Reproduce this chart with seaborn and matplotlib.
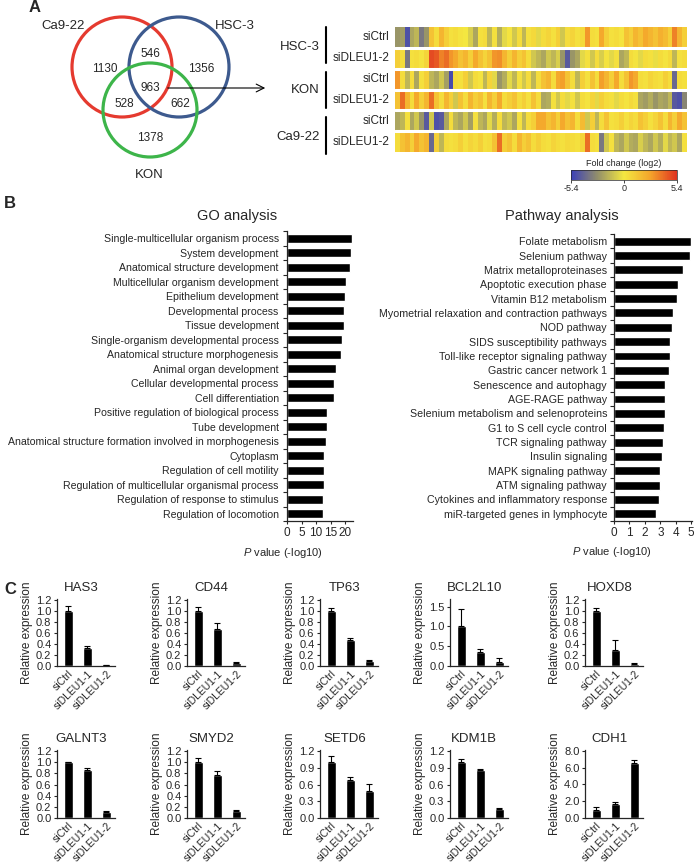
import numpy as np
import pandas as pd
import matplotlib
matplotlib.use('Agg')
import matplotlib.pyplot as plt
import seaborn as sns
from matplotlib.colors import LinearSegmentedColormap
from matplotlib.patches import Circle

sns.set_style('ticks')
plt.rcParams['font.family'] = ['Liberation Sans', 'DejaVu Sans']
plt.rcParams['mathtext.fontset'] = 'custom'
plt.rcParams['mathtext.it'] = 'Liberation Sans:italic'
plt.rcParams['mathtext.rm'] = 'Liberation Sans'

# ---------------- data ----------------
# Venn (A)
venn_sets = ['Ca9-22', 'HSC-3', 'KON']
venn_regions = ['Ca9-22 only', 'HSC-3 only', 'Ca9-22&HSC-3', 'all', 'Ca9-22&KON', 'HSC-3&KON', 'KON only']
venn_counts = [1130, 1356, 546, 963, 528, 662, 1378]

# Heatmap (A), log2 fold change, one list per row
heat_cells = ['HSC-3', 'KON', 'Ca9-22']
heat_conds = ['siCtrl', 'siDLEU1-2', 'siCtrl', 'siDLEU1-2', 'siCtrl', 'siDLEU1-2']
hsc3_ctrl = [-2.5, -2.3, -4.8, -2.0, -1.5, -3.5, -2.5, 1.5, 0.5, 2.0,
             1.0, 0.3, 0.5, 0.2, 0.0, -0.8, -2.0, 0.3, 0.5, -1.5,
             0.3, -1.8, -0.5, 0.2, -1.0, 0.5, -1.5, 0.3, 0.6, -0.5,
             0.5, 0.8, 0.3, 1.0, -1.0, 0.5, 0.8, 0.3, 0.6, 3.0,
             0.5, 0.3, 2.5, 1.0, 0.3, 0.5, 0.2, 1.5, 1.0, 2.0,
             1.5, 2.5, 2.0, 1.5, 2.2, 1.8, 1.0, 3.5, 2.0, 1.0]
hsc3_kd = [1.0, 0.5, -3.5, 0.3, 0.5, 0.2, 0.8, 4.8, 4.5, 3.5,
           4.0, 3.0, 2.5, 1.5, 2.0, 1.0, 2.5, 1.5, 0.8, 1.5,
           3.0, 3.2, 2.0, 1.0, 2.0, 1.0, 1.5, 0.5, -1.0, -1.5,
           -2.0, -1.0, -1.5, -0.8, -2.5, -4.5, -2.5, -2.0, -0.5, 0.3,
           -1.0, 0.5, -0.8, 0.2, -0.5, 0.3, -2.0, -1.5, 0.5, 0.2,
           -0.5, 0.5, 0.3, -0.3, 0.5, 0.2, 0.6, -1.5, 0.3, 0.5]
kon_ctrl = [3.0, 0.5, -1.5, 0.5, -2.0, 0.3, 1.0, -1.5, -2.0, -1.0,
            -2.2, -5.0, 0.5, 0.3, 1.0, -1.0, 0.5, 0.2, -1.5, 0.8,
            -0.5, -2.5, -1.8, -0.5, -1.5, 0.3, -1.0, 0.5, -1.5, 0.5,
            1.5, 2.0, 0.5, 2.5, 2.8, 1.5, 0.5, -1.5, 1.0, 0.3,
            1.5, 0.5, 2.8, 2.0, 1.0, 2.5, 0.5, 1.5, 3.0, 2.5,
            0.5, 0.3, 0.8, 0.5, 0.3, 1.0, 0.5, -4.0, 0.5, 0.3]
kon_kd = [1.5, 4.0, 2.0, 0.5, 2.5, 1.0, 2.0, 4.0, 1.5, 0.5,
          2.0, 1.0, -1.0, 1.5, 0.5, 2.0, 1.0, 1.5, 0.3, 2.0,
          1.0, 2.5, 0.5, 1.0, 1.5, 0.5, 1.0, 0.3, 1.5, 0.5,
          -2.0, -1.8, 0.3, -1.0, 0.5, -0.5, 0.3, -1.0, 0.5, 0.2,
          0.8, -0.5, 1.0, 0.5, 0.3, -0.5, 0.5, 0.2, 0.6, 0.3,
          -2.0, -2.3, -1.8, -2.5, -2.0, -2.2, -1.5, -4.5, -4.8, -3.0]
ca922_ctrl = [-2.0, -1.5, 0.3, -2.0, -1.0, -2.5, -4.5, -1.0, -4.8, -4.5,
              -2.0, 0.5, -1.5, -2.0, -1.0, -2.2, 0.3, -1.5, -2.0, -0.5,
              -1.8, 0.5, -1.5, -1.0, -2.0, 0.3, -1.5, 0.5, 1.0, 2.5,
              2.5, 1.5, 2.0, 1.0, 2.5, 1.5, 2.0, 0.5, 1.8, -1.0,
              1.0, -1.5, 0.5, 1.5, 0.3, 0.5, 1.0, 0.3, 0.8, 0.5,
              1.5, 1.0, 0.3, 0.8, 1.5, 0.5, 2.0, 1.0, 2.5, 1.5]
ca922_kd = [0.5, 1.5, 2.0, 1.0, 2.5, 1.5, 2.0, -4.0, 1.0, -1.5,
            0.5, 0.3, 0.5, 1.0, 0.3, 0.8, 0.5, 1.0, 0.3, 0.5,
            1.5, 4.0, 1.0, 1.5, 0.5, 2.0, 1.0, 1.5, 0.5, 1.0,
            0.5, 0.3, 0.8, 0.5, 0.3, 0.6, 0.5, 0.3, 0.8, 4.0,
            0.5, 0.3, -3.5, -1.0, 0.3, -1.5, -2.0, -1.0, -1.8, -2.0,
            -0.8, -1.5, -2.0, -1.0, -1.8, -0.5, -1.5, -1.0, -2.0, 0.3]

# GO analysis (B)
go_terms = ['Single-multicellular organism process', 'System development',
            'Anatomical structure development', 'Multicellular organism development',
            'Epithelium development', 'Developmental process', 'Tissue development',
            'Single-organism developmental process', 'Anatomical structure morphogenesis',
            'Animal organ development', 'Cellular developmental process', 'Cell differentiation',
            'Positive regulation of biological process', 'Tube development',
            'Anatomical structure formation involved in morphogenesis', 'Cytoplasm',
            'Regulation of cell motility', 'Regulation of multicellular organismal process',
            'Regulation of response to stimulus', 'Regulation of locomotion']
go_pvals = [22.5, 22.0, 21.5, 20.3, 20.0, 19.7, 19.6, 18.9, 18.6, 16.9,
            16.2, 16.2, 13.8, 13.7, 13.4, 12.8, 12.7, 12.6, 12.5, 12.5]

# Pathway analysis (B)
pathway_terms = ['Folate metabolism', 'Selenium pathway', 'Matrix metalloproteinases',
                 'Apoptotic execution phase', 'Vitamin B12 metabolism',
                 'Myometrial relaxation and contraction pathways', 'NOD pathway',
                 'SIDS susceptibility pathways', 'Toll-like receptor signaling pathway',
                 'Gastric cancer network 1', 'Senescence and autophagy', 'AGE-RAGE pathway',
                 'Selenium metabolism and selenoproteins', 'G1 to S cell cycle control',
                 'TCR signaling pathway', 'Insulin signaling', 'MAPK signaling pathway',
                 'ATM signaling pathway', 'Cytokines and inflammatory response',
                 'miR-targeted genes in lymphocyte']
pathway_pvals = [4.97, 4.95, 4.45, 4.13, 4.06, 3.85, 3.74, 3.63, 3.63, 3.59,
                 3.31, 3.30, 3.30, 3.25, 3.16, 3.10, 2.99, 2.98, 2.94, 2.73]

# qPCR (C)
genes = ['HAS3', 'CD44', 'TP63', 'BCL2L10', 'HOXD8',
         'GALNT3', 'SMYD2', 'SETD6', 'KDM1B', 'CDH1']
conditions = ['siCtrl', 'siDLEU1-1', 'siDLEU1-2']
expr_means = [[1.0, 0.33, 0.01], [1.0, 0.68, 0.06], [1.0, 0.48, 0.10],
              [1.0, 0.36, 0.10], [1.0, 0.30, 0.03], [1.0, 0.86, 0.11],
              [1.0, 0.77, 0.13], [1.0, 0.69, 0.49], [1.0, 0.87, 0.17],
              [1.0, 1.70, 6.60]]
expr_errs = [[0.10, 0.03, 0.005], [0.08, 0.11, 0.01], [0.06, 0.03, 0.01],
             [0.43, 0.07, 0.10], [0.05, 0.18, 0.02], [0.01, 0.03, 0.01],
             [0.07, 0.08, 0.01], [0.12, 0.05, 0.12], [0.05, 0.01, 0.005],
             [0.30, 0.15, 0.30]]
gene_yticks = [[0, 0.2, 0.4, 0.6, 0.8, 1.0, 1.2]] * 3 + [[0, 0.5, 1.0, 1.5]] + \
              [[0, 0.2, 0.4, 0.6, 0.8, 1.0, 1.2]] * 3 + [[0, 0.3, 0.6, 0.9, 1.2]] * 2 + \
              [[0, 2, 4, 6, 8]]

# ---------------- layout ----------------
W, H = 694, 868
fig = plt.figure(figsize=(W / 100, H / 100), dpi=100)


def px_axes(x0, y0, x1, y1):
    return fig.add_axes([x0 / W, 1 - y1 / H, (x1 - x0) / W, (y1 - y0) / H])


# overlay in pixel coordinates for schematic parts and free text
ov = px_axes(0, 0, W, H)
ov.set_xlim(0, W)
ov.set_ylim(H, 0)
ov.axis('off')

for lab, x, y in [('A', 35, 8), ('B', 10, 204), ('C', 10, 589)]:
    ov.text(x, y, lab, fontsize=12, fontweight='bold', ha='center', va='center')

# Venn diagram
venn_colors = ['#e53a2f', '#3d5a8e', '#3db54a']
venn_centers = [(122, 67), (179, 67), (150, 110)]
venn_radius = [50, 50, 47]
venn_label_pos = [(63, 26), (235, 26), (149, 175)]
for name, col, cen, r, lp in zip(venn_sets, venn_colors, venn_centers, venn_radius, venn_label_pos):
    ov.add_patch(Circle(cen, r, fill=False, edgecolor=col, lw=2.3))
    ov.text(lp[0], lp[1], name, fontsize=9.5, ha='center', va='center')
count_pos = [(105, 69), (201, 69), (150, 54), (150, 88), (124, 104), (180, 104), (150, 138)]
for cnt, (x, y) in zip(venn_counts, count_pos):
    ov.text(x, y, str(cnt), fontsize=8.5, ha='center', va='center')
ov.annotate('', xy=(268, 88), xytext=(165, 88),
            arrowprops=dict(arrowstyle='->', lw=0.8, color='black', mutation_scale=14))

# Heatmap
heat_df = pd.DataFrame([hsc3_ctrl, hsc3_kd, kon_ctrl, kon_kd, ca922_ctrl, ca922_kd],
                       index=heat_conds)
fc_cmap = LinearSegmentedColormap.from_list(
    'fc', [(0, '#3b3fb8'), (0.25, '#938f6a'), (0.5, '#f4e840'), (0.75, '#f4a42b'), (1, '#e0321f')])
axh = px_axes(395, 27, 687, 152)
sns.heatmap(heat_df, ax=axh, cmap=fc_cmap, vmin=-5.4, vmax=5.4, cbar=False,
            xticklabels=False, yticklabels=True)
for i in range(1, len(heat_conds)):
    axh.axhline(i, color='white', lw=2.2)
axh.set_yticklabels(heat_conds, rotation=0, fontsize=8.5)
axh.tick_params(axis='y', length=0, pad=4)
axh.set_ylabel('')

group_y = [(27, 63, 47), (72, 108, 90), (117, 154, 137)]
for cell, (ya, yb, yc) in zip(heat_cells, group_y):
    ov.plot([326, 326], [ya, yb], color='black', lw=1.5)
    ov.text(320, yc, cell, fontsize=9.5, ha='right', va='center')

cax = px_axes(571, 170, 677, 180)
cb = fig.colorbar(axh.collections[0], cax=cax, orientation='horizontal', ticks=[-5.4, 0, 5.4])
cb.ax.set_xticklabels(['-5.4', '0', '5.4'])
cb.ax.tick_params(labelsize=6.5, length=2, width=0.6, pad=1)
cb.outline.set_linewidth(0.5)
ov.text(624, 164, 'Fold change (log2)', fontsize=6.5, ha='center', va='center')


# GO / pathway bars
def hbar_panel(box, terms, vals, xmax, xticks, labpad, labsize):
    ax = px_axes(*box)
    sns.barplot(x=vals, y=terms, color='black', width=0.62, ax=ax, orient='h')
    ax.set_xlim(0, xmax)
    ax.set_xticks(xticks)
    ax.set_xlabel('')
    ax.set_ylabel('')
    ax.set_yticks(np.arange(-0.5, len(terms), 1), minor=True)
    ax.tick_params(axis='y', which='major', length=0, labelsize=labsize, pad=labpad)
    ax.tick_params(axis='y', which='minor', length=3, width=0.8)
    ax.tick_params(axis='x', length=2.5, width=0.8, labelsize=8.5, pad=2)
    sns.despine(ax=ax)
    for s in ['left', 'bottom']:
        ax.spines[s].set_linewidth(0.9)
    return ax


hbar_panel((287, 231, 353, 521), go_terms, go_pvals, 22.7, [0, 5, 10, 15, 20], 6, 7.55)
ov.text(237, 216, 'GO analysis', fontsize=10.5, ha='center', va='center')
ov.text(283, 553, r'$\it{P}$ value (-log10)', fontsize=8, ha='center', va='center')

hbar_panel((614, 234, 692, 521), pathway_terms, pathway_pvals, 5.05, [0, 1, 2, 3, 4, 5], 5, 7.7)
ov.text(562, 216, 'Pathway analysis', fontsize=10.5, ha='center', va='center')
ov.text(612, 552, r'$\it{P}$ value (-log10)', fontsize=8, ha='center', va='center')

# qPCR small bar charts
row_lefts = [[57, 187, 320, 450, 585], [57, 187, 320, 450, 585]]
row_y = [(599, 666), (750, 818)]
ytops = [1.22, 1.22, 1.22, 1.69, 1.22, 1.22, 1.22, 1.22, 1.22, 8.1]
for i, gene in enumerate(genes):
    r, c = divmod(i, 5)
    x0 = row_lefts[r][c]
    y0, y1 = row_y[r]
    ax = px_axes(x0, y0, x0 + 58, y1)
    sns.barplot(x=conditions, y=expr_means[i], color='black', width=0.5, ax=ax, errorbar=None)
    ax.errorbar(np.arange(len(conditions)), expr_means[i],
                yerr=[np.zeros(len(conditions)), expr_errs[i]],
                fmt='none', ecolor='black', elinewidth=0.8, capsize=2.5, capthick=0.8)
    ax.set_xlim(-0.6, 2.45)
    ax.set_ylim(0, ytops[i])
    ax.set_yticks(gene_yticks[i])
    ax.set_yticklabels([f'{t:.1f}' for t in gene_yticks[i]])
    ax.set_xticks(range(len(conditions)))
    ax.set_xticklabels(conditions, rotation=45, ha='right', rotation_mode='anchor')
    ax.tick_params(axis='x', length=0, labelsize=7.5, pad=2)
    ax.tick_params(axis='y', length=2.5, width=0.8, labelsize=8, pad=1.5)
    ax.set_ylabel('Relative expression', fontsize=8.5, labelpad=2)
    ax.set_title(gene, fontsize=9.5, pad=6, x=0.42)
    sns.despine(ax=ax)
    for s in ['left', 'bottom']:
        ax.spines[s].set_linewidth(0.9)

fig.savefig('out.png', dpi=100)
